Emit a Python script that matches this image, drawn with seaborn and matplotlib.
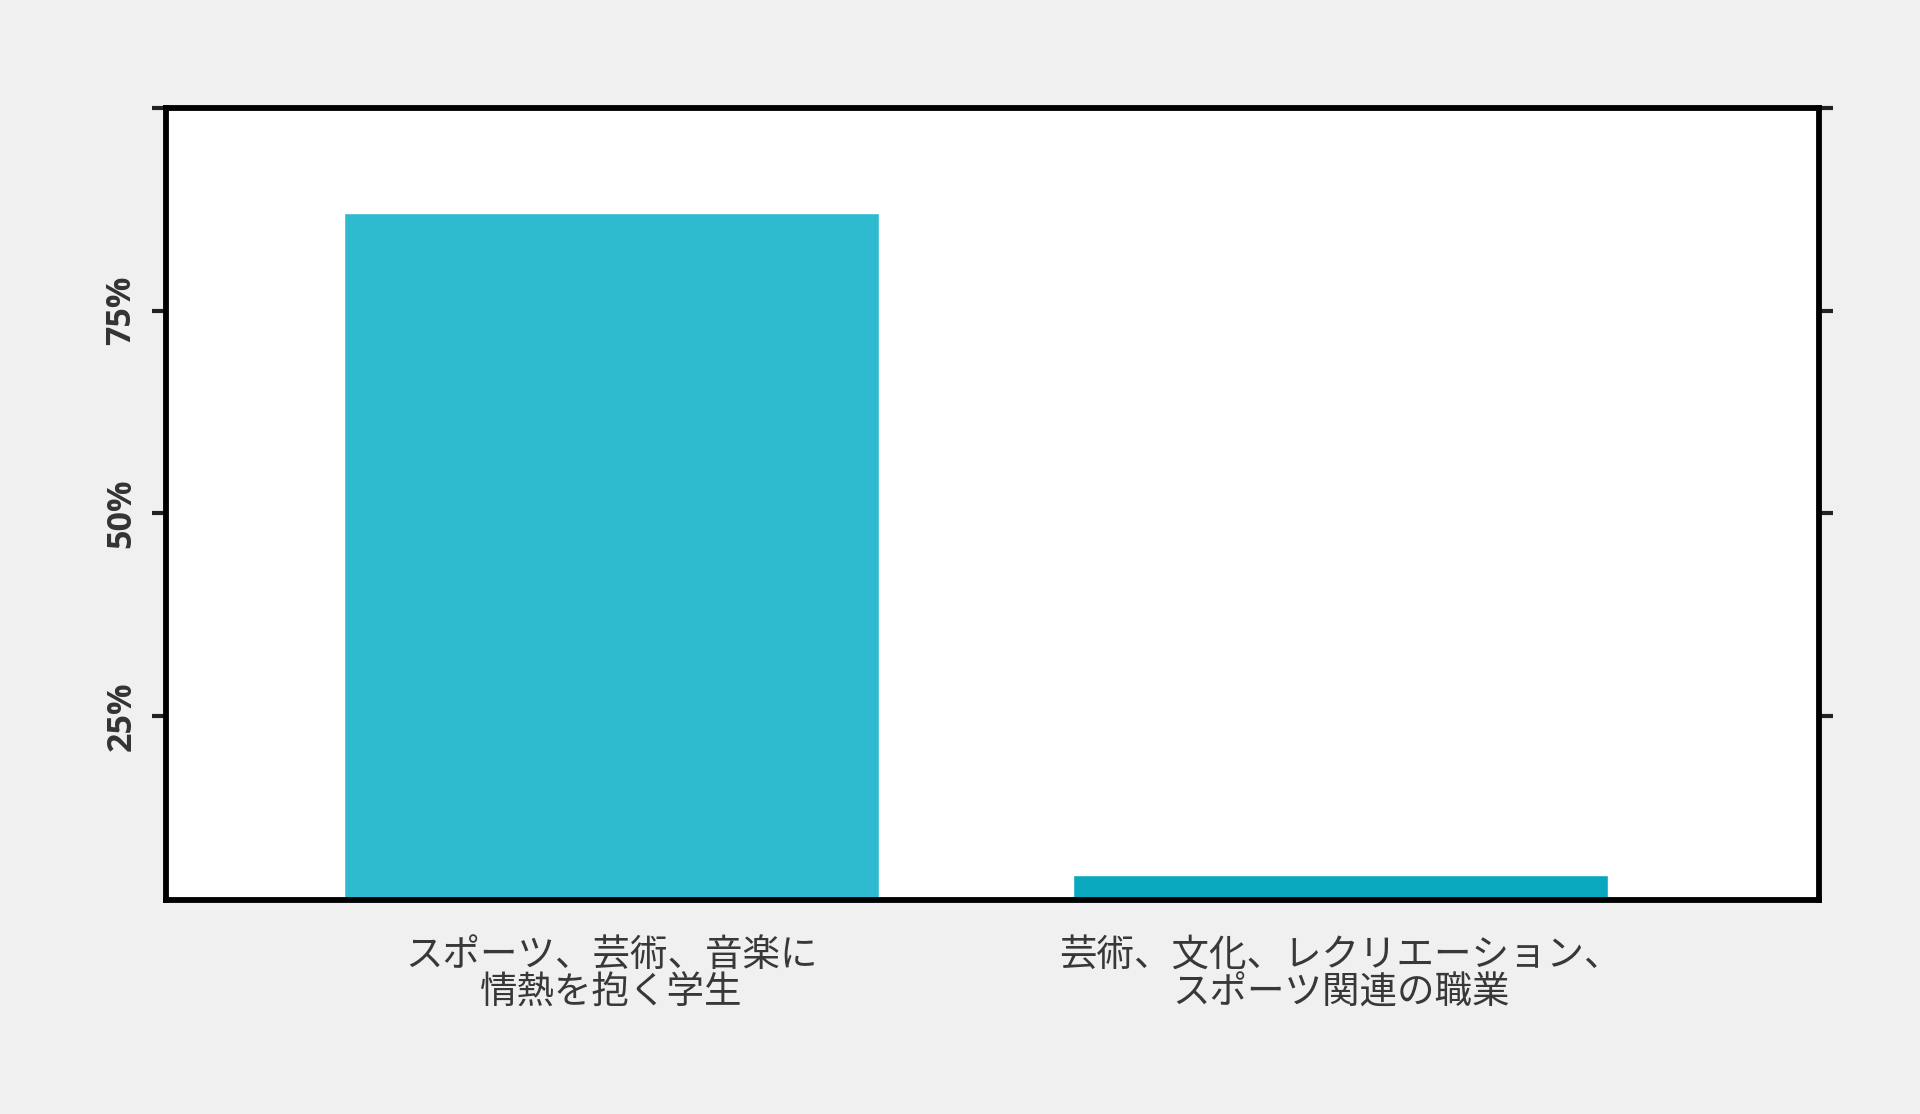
import seaborn as sns
import matplotlib.pyplot as plt

categories = ["スポーツ、芸術、音楽に\n情熱を抱く学生", "芸術、文化、レクリエーション、\nスポーツ関連の職業"]
values = [87.0, 5.4]
bar_colors = ["#2EBBD0", "#0AA8BE"]
ytick_values = [25, 50, 75, 100]
ytick_labels = ["25%", "50%", "75%", ""]

sns.set_theme(style="white")
plt.rcParams["font.family"] = ["Noto Sans CJK JP", "DejaVu Sans"]

fig = plt.figure(figsize=(19.2, 11.14), dpi=100, facecolor="#F0F0F0")
ax = fig.add_axes([0.0865, 0.1921, 0.8609, 0.711])
ax.set_facecolor("white")

sns.barplot(x=categories, y=values, hue=categories, palette=bar_colors,
            width=0.734, saturation=1, legend=False, ax=ax)

ax.set_xlim(-0.611, 1.656)
ax.set_ylim(2.3, 100)
ax.set_yticks(ytick_values)
ax.set_yticklabels(ytick_labels)
for lbl in ax.get_yticklabels():
    lbl.set_rotation(90)
    lbl.set_va("center")
    lbl.set_family(["Open Sans", "DejaVu Sans"])
    lbl.set_fontweight("bold")
    lbl.set_fontsize(24.5)
    lbl.set_color("#333333")
for lbl in ax.get_xticklabels():
    lbl.set_fontsize(27)
    lbl.set_color("#383838")
    lbl.set_linespacing(0.95)
    lbl.set_fontweight("normal")

for side in ["left", "right", "top", "bottom"]:
    ax.spines[side].set_visible(True)
    ax.spines[side].set_color("black")
    ax.spines[side].set_linewidth(4.2)

ax.tick_params(axis="y", left=True, right=True, labelright=False,
               length=10, width=3, color="#222222", pad=10, direction="out")
ax.tick_params(axis="x", bottom=False, length=0, pad=26)
ax.set_xlabel("")
ax.set_ylabel("")
ax.grid(False)

fig.savefig("out.png", dpi=100, facecolor=fig.get_facecolor())
